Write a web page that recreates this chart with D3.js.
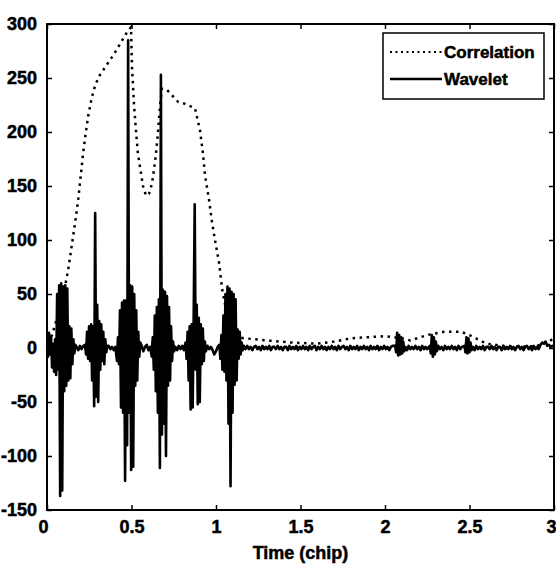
<!DOCTYPE html>
<html>
<head>
<meta charset="utf-8">
<script src="https://cdnjs.cloudflare.com/ajax/libs/d3/7.8.5/d3.min.js"></script>
<style>
  html, body { margin: 0; padding: 0; background: #fff; overflow: hidden; }
  svg { display: block; font-family: "Liberation Sans", Arial, Helvetica, sans-serif; font-weight: bold; }
  text { stroke: #000; stroke-width: 0.5px; }
</style>
</head>
<body>
<div id="chart"></div>
<script>
// Axis ticks and legend names
const xTicks = [0, 0.5, 1, 1.5, 2, 2.5, 3];
const yTicks = [-150, -100, -50, 0, 50, 100, 150, 200, 250, 300];
const seriesNames = ['Correlation', 'Wavelet'];
const xLabel = 'Time (chip)';

// Correlation curve (dotted)
const corrTime = [0, 0.03, 0.06, 0.09, 0.11, 0.125, 0.14, 0.155, 0.17, 0.185, 0.2, 0.215, 0.23, 0.245,
  0.26, 0.275, 0.29, 0.31, 0.34, 0.37, 0.4, 0.43, 0.46, 0.48, 0.497, 0.503, 0.515, 0.527, 0.538,
  0.556, 0.568, 0.586, 0.604, 0.621, 0.633, 0.645, 0.657, 0.669, 0.68, 0.71, 0.74, 0.775, 0.817,
  0.876, 0.893, 0.905, 0.923, 0.935, 0.959, 0.976, 0.994, 1.018, 1.036, 1.06, 1.083, 1.12, 1.17,
  1.3, 1.45, 1.6, 1.7, 1.8, 1.9, 2.0, 2.1, 2.15, 2.25, 2.35, 2.45, 2.5, 2.55, 2.6, 2.7, 2.8, 2.9, 2.97, 3.0];
const corrValue = [5, 12, 28, 48, 60, 72, 88, 104, 120, 138, 160, 182, 200, 216,
  228, 238, 245, 252, 259, 266, 273, 281, 289, 294, 297, 260, 225, 200, 180,
  162, 150, 141, 143, 152, 165, 180, 200, 225, 240, 239, 234, 228, 226,
  222, 210, 202, 180, 160, 137, 117, 100, 79, 55, 35, 18, 10, 9,
  7, 5, 4, 6, 9, 10, 11, 9, 7, 12, 15, 15, 12, 8, 4, 2, 1, 2, 6, 9];

// Wavelet output: dense bursts sampled every burstStep chip
const burstStep = 0.006;
const burstStart = [0.0, 0.225, 0.414, 0.62, 0.82, 1.02, 2.06, 2.265, 2.47];
const burstValues = [
  [5, -8, 14, -6, 10, -18, 4, -22, 8, -25, 50, -20, 58, -137, 60, -132, 57, -40, 58, -35, 55, -30, 20, -28, 18, -15, 8, -5, 3],
  [3, -6, 15, -10, 20, -12, 22, -30, 20, -54, 125, -45, 40, -50, 25, -20, 22, -12, 15, -15, 8, -4, 2],
  [-12, 10, -15, 35, -55, 42, -60, 44, -123, 44, -90, 285, -60, 58, -113, 57, -110, 50, -35, 35, -30, 15, -8, 5],
  [-8, 10, -20, 30, -40, 38, -60, 45, -111, 253, -80, 54, -70, 52, -100, 48, -35, 38, -30, 20, -12, 6, -3],
  [5, -10, 15, -30, 20, -57, 22, -55, 30, 133, -20, 40, -52, 28, -50, 22, -15, 18, -12, 6, -3],
  [3, -10, 12, -20, 30, -22, 50, -30, 57, -70, 55, -128, 52, -60, 50, -34, 45, -30, 17, -10, 15, -6, 5, -2],
  [2, -4, 14, -7, 12, -6, 10, -5, 6, -3],
  [2, -5, 12, -8, 10, -6, 6, -3],
  [2, -4, 10, -5, 9, -4, 5, -2]
];

// Quiet stretches between bursts, sampled every quietStep chip
const quietStep = 0.01;
const quietStart = [0.175, 0.365, 0.56, 0.76, 0.95, 1.165, 2.12, 2.315, 2.52];
const quietValues = [
  [1, -2, 2, -1, 2],
  [2, -1, 1, -2, 1],
  [2, -3, 1, 3, -2, 1, -3],
  [1, -2, 2, -1, 2, -2],
  [2, -1, 1, -2, -6, -3, 1],
  [2, -1, 2, -1, 1, -2, 1, 2, -1, 1, -2, 2, -1, 1, -1, 2, -2, 1, 1, -1, 2, -1, 1, -2, 1, 1, -2, 2, -1, 1,
   -1, 2, -2, 1, -1, 2, -1, 1, -2, 2, -1, 1, 2, -2, 1, -1, 2, -1, 1, -2, 1, -1, 2, -1, 1, -2, 2, -1, 1,
   2, -1, 1, -2, 2, -1, 1, -1, 2, -2, 1, -1, 2, -1, 1, -2, 2, -1, 1, -1, 2, -2, 1, -1, 2, -1, 1, -2, 1, 2],
  [1, -2, 2, -1, 1, -1, 2, -1, 1, -2, 2, -1, 1, -1],
  [2, -1, 1, -2, 2, -1, 1, -1, 2, -1, 1, -2, 2, -1, 1],
  [1, -2, 2, -1, 1, -1, 2, -2, 1, 1, -1, 2, -1, 1, -2, 1, 1, -2, 2, -1, 1, -1, 2, -1, 1, -2, 1, 2, -1, 1,
   -2, 1, 2, -1, 1, -2, 2, -1, 1, -1, 3, 5, 4, 6, 2, 3, 1, 2, 1]
];

// Layout
const W = 556, H = 567;
const plot = { left: 47, right: 554, top: 24, bottom: 510 };

const svg = d3.select('#chart').append('svg')
  .attr('width', W)
  .attr('height', H);

const x = d3.scaleLinear().domain([0, 3]).range([plot.left, plot.right]);
const y = d3.scaleLinear().domain([-150, 300]).range([plot.bottom, plot.top]);

// Build series
const corrData = corrTime.map((t, i) => ({ t: t, v: corrValue[i] }));

let waveData = [];
burstValues.forEach((vals, k) => {
  vals.forEach((v, i) => waveData.push({ t: burstStart[k] + i * burstStep, v: v }));
});
quietValues.forEach((vals, k) => {
  vals.forEach((v, i) => waveData.push({ t: quietStart[k] + i * quietStep, v: v }));
});
waveData = waveData.filter(d => d.t <= 3).sort((a, b) => a.t - b.t);

const line = d3.line()
  .x(d => x(d.t))
  .y(d => y(d.v));

svg.append('clipPath').attr('id', 'clip')
  .append('rect')
  .attr('x', plot.left).attr('y', plot.top)
  .attr('width', plot.right - plot.left).attr('height', plot.bottom - plot.top);

const g = svg.append('g').attr('clip-path', 'url(#clip)');

// Correlation (dotted)
g.append('path')
  .datum(corrData)
  .attr('fill', 'none')
  .attr('stroke', '#000')
  .attr('stroke-width', 2.5)
  .attr('stroke-dasharray', '2.5,4.5')
  .attr('d', line);

// Wavelet (solid)
g.append('path')
  .datum(waveData)
  .attr('fill', 'none')
  .attr('stroke', '#000')
  .attr('stroke-width', 2.6)
  .attr('stroke-linejoin', 'round')
  .attr('d', line);

// Axes with inward ticks on all four sides
const fmt = d => String(d);
const tickLen = 5;

const axB = svg.append('g')
  .attr('transform', `translate(0,${plot.bottom})`)
  .call(d3.axisBottom(x).tickValues(xTicks).tickSize(-tickLen).tickPadding(10).tickFormat(fmt));
const axT = svg.append('g')
  .attr('transform', `translate(0,${plot.top})`)
  .call(d3.axisTop(x).tickValues(xTicks).tickSize(-tickLen).tickFormat(''));
const axL = svg.append('g')
  .attr('transform', `translate(${plot.left},0)`)
  .call(d3.axisLeft(y).tickValues(yTicks).tickSize(-tickLen).tickPadding(10).tickFormat(fmt));
const axR = svg.append('g')
  .attr('transform', `translate(${plot.right},0)`)
  .call(d3.axisRight(y).tickValues(yTicks).tickSize(-tickLen).tickFormat(''));

[axB, axT, axL, axR].forEach(a => {
  a.select('.domain').remove();
  a.selectAll('line').attr('stroke', '#000').attr('stroke-width', 1.5);
  a.selectAll('text')
    .attr('fill', '#000')
    .style('font-size', '18px')
    .style('font-weight', 'bold')
    .style('font-family', '"Liberation Sans", Arial, sans-serif');
});

// first and last x labels sit a little inside, as in the original
axB.selectAll('.tick text')
  .attr('text-anchor', d => d === 3 ? 'end' : 'middle')
  .attr('dx', d => d === 0 ? -4 : (d === 3 ? 2 : 0));

// Frame
svg.append('rect')
  .attr('x', plot.left).attr('y', plot.top)
  .attr('width', plot.right - plot.left).attr('height', plot.bottom - plot.top)
  .attr('fill', 'none')
  .attr('stroke', '#000')
  .attr('stroke-width', 2);

// X label
svg.append('text')
  .attr('x', (plot.left + plot.right) / 2)
  .attr('y', 559)
  .attr('text-anchor', 'middle')
  .style('font-size', '18px')
  .text(xLabel);

// Legend
const leg = svg.append('g');
leg.append('rect')
  .attr('x', 383).attr('y', 33)
  .attr('width', 161).attr('height', 66)
  .attr('fill', '#fff')
  .attr('stroke', '#000')
  .attr('stroke-width', 1.5);

const legItems = [
  { name: seriesNames[0], dash: '2,3.5', w: 2 },
  { name: seriesNames[1], dash: null, w: 2.6 }
];
legItems.forEach((d, i) => {
  const yy = 52 + i * 27;
  leg.append('line')
    .attr('x1', 390).attr('x2', 442)
    .attr('y1', yy).attr('y2', yy)
    .attr('stroke', '#000')
    .attr('stroke-width', d.w)
    .attr('stroke-dasharray', d.dash);
  leg.append('text')
    .attr('x', 444)
    .attr('y', yy + 6)
    .style('font-size', '17px')
    .text(d.name);
});
</script>
</body>
</html>
